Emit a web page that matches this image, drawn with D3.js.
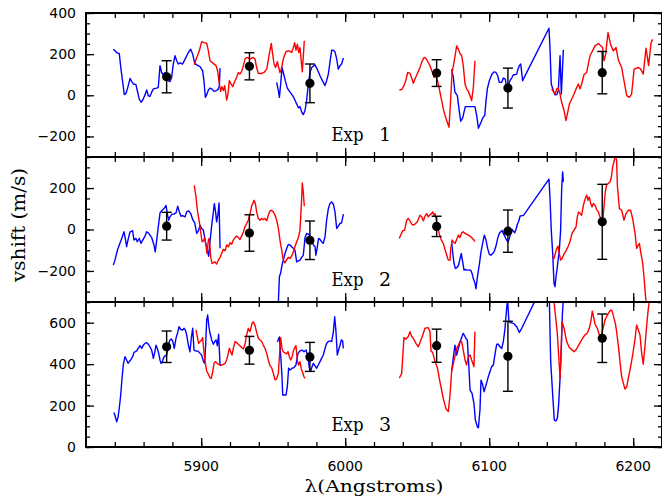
<!DOCTYPE html>
<html>
<head>
<meta charset="utf-8">
<script src="https://cdn.jsdelivr.net/npm/d3@7"></script>
<style>
  body { margin: 0; background: #fff; }
  svg { display: block; }
</style>
</head>
<body>
<svg id="chart" width="662" height="496"></svg>
<script>
// ---- data -----------------------------------------------------------------
const wavelengthRange = [5820, 6220];
const xTickLabels = [5900, 6000, 6100, 6200];
const panelNames = ["Exp", "Exp", "Exp"];
const panelNumbers = ["1", "2", "3"];
const yDomains = [[-300, 400], [-350, 350], [0, 700]];
const yTickLabels = [[-200, 0, 200, 400], [-200, 0, 200], [0, 200, 400, 600]];

// binned velocity shifts (wavelength of bin centre, shift, 1-sigma error)
const binCenters = [5876, 5933.5, 5975.5, 6063.5, 6113, 6178.5];
const exp1Shift = [90, 141, 58, 108, 35, 110];
const exp1Error = [78, 66, 94, 65, 97, 103];
const exp2Shift = [16, -17, -52, 15, -8, 37];
const exp2Error = [67, 88, 93, 49, 102, 181];
const exp3Shift = [484, 467, 435, 489, 438, 525];
const exp3Error = [76, 67, 70, 80, 169, 117];

// per-chunk shift curves, [wavelength, shift] pairs, one array per chunk
const exp1Blue = [
  [[5839.0,224],[5840.1,216],[5841.8,205],[5843.1,203],[5844.3,127],[5845.5,63],[5846.6,3],[5847.8,10],[5848.9,35],[5850.6,82],[5851.7,68],[5852.9,55],[5854.7,52],[5855.6,23],[5857.0,-18],[5858.2,-34],[5859.4,-23],[5861.0,2],[5862.1,26],[5863.3,-2],[5864.4,-6],[5865.6,15],[5866.8,31],[5869.1,35],[5870.2,39],[5871.4,144],[5872.5,111],[5873.7,100],[5874.9,111],[5876.0,90],[5877.2,71],[5878.3,66],[5879.5,87],[5880.6,152],[5881.8,192],[5883.0,168],[5884.1,152],[5885.3,158],[5887.1,152],[5888.8,176],[5891.1,208],[5892.7,224],[5894.1,200],[5895.5,155],[5896.9,148],[5899.2,139],[5901.0,119],[5901.9,71],[5902.9,-10],[5903.8,3],[5905.0,26],[5906.1,35],[5907.3,31],[5908.9,19],[5910.7,23],[5911.9,31],[5912.6,47],[5913.1,132]],
  [[5952.4,63],[5953.6,23],[5954.3,-10],[5955.2,55],[5956.1,135],[5957.0,111],[5958.4,71],[5959.8,35],[5961.7,15],[5963.5,-2],[5965.1,-23],[5966.3,-42],[5967.5,-61],[5968.6,-55],[5969.8,-82],[5970.9,-94],[5972.1,-74],[5973.2,-26],[5974.4,55],[5975.6,111],[5976.7,135],[5979.0,148],[5980.6,127],[5982.5,95],[5984.8,63],[5986.0,47],[5987.1,71],[5988.3,103],[5989.4,160],[5990.6,219],[5991.8,219],[5992.9,212],[5994.1,176],[5995.2,127],[5996.4,144],[5997.5,152],[5998.7,181]],
  [[6073.9,127],[6075.1,87],[6076.2,15],[6077.9,-2],[6079.3,-82],[6080.2,-126],[6081.6,-110],[6082.5,-82],[6083.4,-55],[6085.5,-55],[6087.8,-55],[6090.1,-55],[6091.3,-98],[6092.5,-160],[6094.1,-135],[6095.5,-110],[6096.9,-98],[6097.8,-26],[6098.7,31],[6100.1,71],[6101.7,100],[6103.3,114],[6104.7,111],[6105.9,95],[6107.0,63],[6108.7,63],[6109.8,84],[6111.2,79],[6112.1,35],[6113.3,47],[6114.4,71],[6115.6,84],[6116.8,100],[6117.9,100],[6119.1,103],[6120.0,127],[6120.9,144],[6121.9,152],[6123.2,71],[6141.5,326],[6142.2,232],[6143.1,55],[6144.5,23],[6145.7,2],[6146.9,3],[6148.0,23],[6149.2,192],[6150.1,6],[6151.5,221]]
];
const exp1Red = [
  [[5895.2,148],[5896.9,184],[5898.7,216],[5900.3,261],[5901.9,256],[5903.8,253],[5905.0,216],[5906.1,168],[5908.4,155],[5910.3,144],[5911.4,119],[5912.6,55],[5913.5,19],[5914.4,42],[5915.4,23],[5916.3,47],[5917.7,-23],[5918.6,6],[5919.5,71],[5920.7,55],[5921.9,42],[5923.0,63],[5924.6,87],[5925.8,111],[5926.9,103],[5928.1,116],[5929.3,144],[5930.4,176],[5931.6,184],[5932.7,181],[5933.9,176],[5935.7,184],[5937.4,176],[5938.5,135],[5939.7,106],[5942.0,106],[5943.6,111],[5945.5,127],[5947.3,200],[5948.7,252],[5949.6,200],[5950.6,152],[5951.7,135],[5952.9,164],[5953.8,135],[5954.7,111],[5955.6,127],[5957.0,176],[5958.9,213],[5961.2,216],[5962.8,208],[5964.0,232],[5964.9,256],[5965.8,219],[5966.8,248],[5967.7,208],[5968.6,232],[5970.2,114],[5971.6,265]],
  [[6037.6,27],[6039.2,27],[6040.8,47],[6042.2,74],[6043.4,111],[6045.0,106],[6046.2,84],[6047.3,58],[6048.5,79],[6050.1,106],[6051.5,127],[6053.1,160],[6054.7,184],[6055.9,181],[6057.0,168],[6058.9,144],[6060.3,116],[6061.7,87],[6063.1,95],[6064.7,55],[6065.8,15],[6067.0,-26],[6068.1,-66],[6069.3,-98],[6070.9,-131],[6072.1,-155],[6073.2,-26],[6074.2,111],[6075.1,143],[6076.3,192],[6077.4,240],[6078.6,224],[6079.7,203],[6080.9,192],[6082.0,143],[6083.2,55],[6084.3,31],[6085.5,19],[6086.7,-2],[6087.8,-26],[6089.0,39],[6090.1,168]],
  [[6143.4,31],[6145.7,6],[6146.9,31],[6148.0,35],[6149.2,6],[6150.3,-34],[6152.0,-74],[6153.3,-123],[6154.3,-90],[6155.7,-42],[6157.3,-18],[6158.9,6],[6160.3,31],[6161.9,55],[6163.1,31],[6164.2,55],[6165.8,100],[6167.7,111],[6169.5,176],[6170.0,192],[6173.5,240],[6175.8,252],[6178.8,232],[6179.7,168],[6180.9,200],[6182.5,305],[6184.4,245],[6186.2,216],[6188.1,232],[6189.7,171],[6192.0,135],[6193.6,71],[6195.5,-2],[6197.3,-10],[6198.9,6],[6200.6,127],[6203.6,135],[6205.2,127],[6207.0,103],[6208.9,229],[6210.7,144],[6212.4,256],[6213.5,272]]
];

const exp2Blue = [
  [[5839.0,-172],[5840.1,-148],[5841.8,-100],[5843.1,-75],[5844.8,-43],[5846.4,-11],[5847.5,-51],[5848.2,-83],[5849.4,-43],[5850.6,-11],[5852.4,-6],[5853.3,-51],[5854.7,-43],[5855.6,-59],[5857.0,-43],[5858.2,-67],[5859.4,-51],[5861.0,-32],[5862.1,-11],[5863.3,-16],[5864.4,-27],[5865.6,-39],[5867.2,-75],[5868.1,-108],[5869.1,-51],[5870.2,13],[5871.4,80],[5872.8,93],[5874.2,101],[5875.6,116],[5876.5,74],[5877.4,45],[5878.3,61],[5879.7,74],[5881.1,74],[5882.5,80],[5883.7,112],[5884.8,85],[5886.0,64],[5887.1,67],[5888.8,61],[5889.9,85],[5891.3,90],[5892.7,77],[5894.1,48],[5895.5,32],[5896.9,-19],[5898.1,-6],[5899.2,21],[5900.3,5],[5901.5,-3],[5902.9,-59],[5904.3,-100],[5905.2,-129],[5906.1,-59],[5907.3,21],[5908.4,80],[5909.1,125],[5910.0,85],[5910.7,37],[5911.7,77],[5912.4,128],[5913.1,-91]],
  [[5952.4,-453],[5953.6,-347],[5954.3,-228],[5955.2,-209],[5955.9,-180],[5957.0,-148],[5958.2,-116],[5959.4,-91],[5960.5,-72],[5961.7,-75],[5962.8,-83],[5964.0,-91],[5965.1,-100],[5966.3,-156],[5967.5,-151],[5968.6,-148],[5969.8,-135],[5970.9,-124],[5972.1,-39],[5973.2,-19],[5974.4,-22],[5975.6,-32],[5976.7,-39],[5977.9,-75],[5979.1,-83],[5979.6,-124],[5980.6,-87],[5981.5,-43],[5982.5,-48],[5983.6,-59],[5984.8,-67],[5986.0,-35],[5987.1,45],[5988.3,101],[5989.4,125],[5990.6,133],[5991.8,122],[5992.9,85],[5994.1,5],[5995.2,16],[5996.4,29],[5997.5,32],[5998.7,74]],
  [[6073.9,-59],[6074.6,-108],[6075.6,-164],[6076.5,-188],[6077.4,-185],[6078.6,-175],[6079.7,-143],[6080.6,-116],[6081.6,-156],[6082.5,-196],[6083.4,-193],[6084.8,-196],[6086.2,-196],[6087.1,-196],[6088.1,-212],[6089.0,-238],[6090.1,-258],[6090.8,-286],[6091.8,-230],[6093.2,-167],[6094.3,-108],[6095.5,-64],[6096.6,-27],[6097.8,-51],[6098.9,-91],[6100.1,-120],[6101.2,-124],[6102.4,-116],[6103.6,-104],[6104.7,-80],[6106.1,-37],[6107.0,-19],[6108.0,-11],[6108.9,-5],[6109.8,-19],[6111.0,-35],[6112.1,-51],[6113.1,-59],[6114.0,-43],[6114.9,-16],[6115.8,0],[6116.8,-8],[6117.7,-16],[6118.6,0],[6119.5,24],[6120.5,40],[6121.4,64],[6122.5,67],[6123.7,67],[6141.5,243],[6142.2,157],[6143.1,-3],[6144.1,-116],[6145.0,-260],[6145.7,-276],[6146.4,-228],[6147.3,-180],[6148.7,-100],[6149.6,-3],[6150.3,190],[6151.0,278],[6151.5,230]]
];
const exp2Red = [
  [[5895.2,213],[5896.4,157],[5897.5,85],[5898.7,37],[5899.6,-11],[5900.6,-59],[5901.5,-55],[5902.4,-39],[5903.3,-75],[5904.0,-116],[5905.0,-51],[5905.6,-43],[5906.6,-132],[5907.5,-164],[5908.4,-161],[5909.6,-156],[5910.7,-167],[5911.9,-148],[5913.1,-135],[5914.2,-116],[5915.4,-96],[5916.6,-103],[5917.7,-75],[5918.9,-83],[5920.0,-64],[5921.2,-71],[5922.3,-51],[5923.5,-39],[5924.6,-32],[5925.8,-39],[5926.9,-48],[5928.1,-32],[5929.3,-11],[5930.4,13],[5931.6,29],[5932.7,45],[5933.9,77],[5935.0,112],[5936.7,141],[5937.6,125],[5938.5,85],[5939.7,53],[5940.8,45],[5942.0,53],[5943.1,48],[5944.3,53],[5945.5,42],[5946.6,69],[5947.8,90],[5948.9,93],[5950.1,85],[5951.3,69],[5952.4,45],[5953.6,5],[5954.7,-51],[5955.9,-100],[5957.0,-148],[5958.2,-161],[5959.4,-145],[5960.5,-135],[5961.7,-140],[5962.8,-129],[5964.0,-108],[5965.1,-83],[5966.3,-59],[5967.5,-39],[5968.6,-3],[5969.1,61],[5969.8,157],[5970.2,225],[5970.9,181],[5971.6,112]],
  [[6037.6,-43],[6038.5,-27],[6039.9,-6],[6041.3,-3],[6042.7,45],[6043.8,53],[6045.0,42],[6046.2,26],[6047.3,21],[6048.5,26],[6050.1,37],[6051.0,53],[6052.0,69],[6053.1,61],[6054.3,42],[6055.4,64],[6056.6,77],[6057.7,61],[6058.9,72],[6060.0,77],[6060.7,85],[6061.7,69],[6062.4,77],[6063.5,37],[6064.7,-3],[6065.8,-32],[6067.0,-55],[6068.1,-67],[6069.3,-96],[6070.5,-124],[6071.6,-148],[6072.8,-148],[6073.2,-100],[6074.2,-51],[6075.1,-59],[6076.3,-67],[6077.4,-48],[6078.6,-27],[6079.7,-39],[6080.9,-16],[6082.0,-11],[6083.2,-19],[6084.3,-22],[6085.5,-27],[6086.7,-32],[6087.8,-39],[6089.0,-48],[6090.1,-59]],
  [[6144.1,-132],[6145.0,-140],[6145.9,-116],[6146.9,-92],[6147.8,-80],[6148.7,-116],[6149.6,-148],[6150.6,-140],[6151.9,-119],[6153.3,-103],[6154.7,-83],[6156.1,-59],[6157.5,-19],[6158.9,-3],[6160.3,13],[6161.2,61],[6162.1,85],[6163.1,77],[6164.2,69],[6165.4,117],[6166.5,145],[6167.7,166],[6168.6,141],[6169.5,157],[6170.5,125],[6171.4,109],[6172.3,125],[6173.5,117],[6174.6,96],[6175.8,85],[6176.9,61],[6178.1,45],[6178.8,37],[6179.7,109],[6180.6,181],[6181.6,218],[6182.7,222],[6183.9,230],[6184.8,251],[6185.7,302],[6186.9,334],[6187.6,370],[6188.5,330],[6189.0,214],[6190.4,101],[6192.0,93],[6193.6,45],[6195.0,77],[6196.6,93],[6198.2,93],[6199.6,53],[6201.3,-19],[6202.4,-91],[6203.6,-75],[6204.3,-67],[6205.2,-108],[6206.6,-164],[6207.5,-228],[6208.2,-292],[6208.9,-348],[6209.5,-420]]
];

const exp3Blue = [
  [[5839.4,167],[5840.4,146],[5841.3,122],[5842.2,142],[5843.1,187],[5844.1,251],[5845.0,331],[5845.9,396],[5847.1,436],[5848.2,420],[5849.2,404],[5850.1,412],[5851.0,420],[5852.4,436],[5853.3,457],[5854.3,460],[5855.2,464],[5856.6,480],[5857.5,489],[5858.7,476],[5859.8,492],[5861.0,500],[5862.1,504],[5863.3,496],[5864.4,484],[5865.6,468],[5866.8,428],[5867.9,463],[5868.6,492],[5869.5,476],[5870.5,452],[5871.4,420],[5872.1,404],[5873.2,415],[5874.2,436],[5875.1,441],[5876.0,444],[5877.4,500],[5878.3,517],[5879.3,521],[5880.2,512],[5881.3,476],[5882.5,525],[5883.7,553],[5884.6,581],[5885.7,568],[5887.1,565],[5888.1,573],[5889.0,565],[5889.9,541],[5891.1,492],[5892.2,460],[5893.1,525],[5894.1,573],[5895.0,468],[5896.4,463],[5897.8,463],[5899.2,452],[5900.3,444],[5901.5,415],[5902.4,404],[5903.1,492],[5903.8,613],[5904.5,637],[5905.2,589],[5906.1,549],[5907.3,517],[5908.4,496],[5909.4,509],[5910.3,517],[5911.2,489],[5912.1,544],[5913.1,396],[5914.0,393]],
  [[5952.9,507],[5954.3,531],[5955.2,444],[5956.1,340],[5956.6,251],[5957.5,251],[5958.9,251],[5959.8,290],[5960.7,380],[5961.7,372],[5963.1,380],[5964.4,383],[5965.8,396],[5967.2,452],[5968.6,464],[5970.0,468],[5971.4,460],[5972.8,468],[5974.2,434],[5975.1,380],[5976.0,367],[5977.0,388],[5977.9,404],[5979.0,393],[5980.2,380],[5981.3,396],[5982.5,412],[5983.6,428],[5984.8,444],[5986.0,476],[5987.1,500],[5988.3,509],[5989.4,512],[5990.6,509],[5991.8,557],[5992.7,629],[5993.6,557],[5994.5,444],[5995.4,468],[5996.4,492],[5997.3,517],[5998.2,512],[5998.7,476]],
  [[6073.9,367],[6076.2,492],[6077.4,444],[6078.6,476],[6080.2,517],[6082.0,549],[6083.9,524],[6084.8,517],[6085.7,412],[6086.7,275],[6088.1,259],[6089.4,211],[6090.4,130],[6091.8,97],[6092.5,93],[6093.6,180],[6094.3,323],[6095.5,299],[6096.4,267],[6097.8,299],[6099.4,340],[6100.6,364],[6101.7,388],[6102.9,396],[6104.0,447],[6105.2,496],[6106.3,496],[6107.5,484],[6108.7,476],[6109.8,509],[6111.0,573],[6112.1,669],[6112.8,710],[6113.7,605],[6114.4,602],[6116.8,597],[6119.1,581],[6120.9,553],[6122.6,573],[6141.5,845],[6141.8,702],[6142.7,412],[6144.1,251],[6145.2,130],[6146.4,126],[6147.3,138],[6148.2,203],[6149.2,332],[6150.1,476],[6150.8,637],[6151.5,718]]
];
const exp3Red = [
  [[5896.4,565],[5897.3,533],[5898.2,500],[5899.2,509],[5900.3,517],[5901.0,528],[5901.9,460],[5902.9,404],[5903.8,367],[5905.0,351],[5906.1,334],[5907.0,331],[5908.0,364],[5908.9,404],[5909.8,412],[5910.7,407],[5911.9,399],[5913.1,396],[5914.2,396],[5915.4,399],[5916.6,404],[5917.7,420],[5918.8,452],[5919.5,476],[5920.5,460],[5921.4,444],[5922.3,476],[5923.5,509],[5924.6,504],[5925.8,496],[5926.9,489],[5928.1,480],[5929.3,473],[5930.4,496],[5931.6,541],[5932.7,573],[5933.9,557],[5935.3,597],[5936.2,605],[5937.4,586],[5938.5,553],[5939.7,525],[5940.8,517],[5942.0,509],[5943.1,492],[5944.3,476],[5945.5,452],[5946.6,420],[5947.8,393],[5948.9,383],[5950.1,356],[5951.3,324],[5952.4,329],[5953.6,356],[5954.3,436],[5955.2,528],[5956.1,476],[5957.0,460],[5958.2,454],[5959.3,449],[5960.3,460],[5961.2,436],[5962.2,420],[5963.1,436],[5964.0,463],[5964.9,479],[5965.8,489],[5966.8,415],[5967.7,396],[5968.6,412],[5969.5,377],[5970.4,361],[5971.3,340],[5972.1,332]],
  [[6037.6,333],[6039.2,354],[6040.8,528],[6042.2,521],[6043.8,533],[6045.0,557],[6046.2,533],[6047.3,525],[6049.2,499],[6050.8,484],[6053.1,525],[6055.4,573],[6057.7,576],[6058.9,557],[6059.6,463],[6060.7,457],[6062.4,412],[6064.0,383],[6065.8,315],[6068.1,235],[6070.0,184],[6071.6,171],[6072.8,251],[6073.9,364],[6075.6,420],[6077.4,476],[6078.6,492],[6079.7,509],[6080.9,509],[6082.0,468],[6083.2,420],[6084.3,396],[6085.5,436],[6086.7,444],[6087.8,420],[6089.0,396],[6089.4,388],[6090.1,557]],
  [[6144.1,760],[6147.3,550],[6149.2,331],[6150.6,605],[6152.0,573],[6153.8,509],[6155.6,480],[6157.3,470],[6158.9,460],[6160.7,473],[6162.1,492],[6163.5,509],[6164.9,525],[6166.5,541],[6168.1,549],[6169.5,573],[6170.7,610],[6171.6,656],[6173.7,589],[6175.1,573],[6176.5,541],[6177.4,525],[6178.8,565],[6180.4,613],[6182.1,637],[6183.4,653],[6184.4,661],[6185.3,657],[6186.2,634],[6187.6,597],[6188.5,557],[6189.9,476],[6190.8,412],[6192.0,340],[6193.2,307],[6194.3,280],[6195.5,291],[6196.6,332],[6198.2,388],[6199.6,444],[6201.2,517],[6202.4,589],[6203.6,565],[6204.7,541],[6205.9,452],[6207.0,400],[6208.2,490],[6209.3,581],[6210.5,669],[6211.7,734]]
];

const experiments = [
  { blue: exp1Blue, red: exp1Red, shift: exp1Shift, err: exp1Error },
  { blue: exp2Blue, red: exp2Red, shift: exp2Shift, err: exp2Error },
  { blue: exp3Blue, red: exp3Red, shift: exp3Shift, err: exp3Error }
];

// ---- layout ---------------------------------------------------------------
const svg = d3.select("#chart");
const plotLeft = 86, plotRight = 662;
const panelEdges = [13, 157, 302, 447];
const tickFont = "'DejaVu Sans', sans-serif";
const labelFont = "'DejaVu Serif', serif";

const x = d3.scaleLinear().domain(wavelengthRange).range([plotLeft, plotRight]);
const xMinor = d3.range(5840, 6221, 20);
const xMajor = d3.range(5900, 6221, 100);

const line = (y) => d3.line().x(d => x(d[0])).y(d => y(d[1]));

experiments.forEach((exp, i) => {
  const top = panelEdges[i], bottom = panelEdges[i + 1];
  const y = d3.scaleLinear().domain(yDomains[i]).range([bottom, top]);
  const g = svg.append("g");

  const clipId = "clip" + i;
  svg.append("clipPath").attr("id", clipId)
    .append("rect").attr("x", plotLeft).attr("y", top)
    .attr("width", plotRight - plotLeft).attr("height", bottom - top);

  // shift curves
  const curves = g.append("g").attr("clip-path", `url(#${clipId})`)
    .attr("fill", "none").attr("stroke-width", 1.4).attr("stroke-linejoin", "round");
  curves.selectAll("path.blue").data(exp.blue).join("path")
    .attr("class", "blue").attr("stroke", "#0000ff").attr("d", line(y));
  curves.selectAll("path.red").data(exp.red).join("path")
    .attr("class", "red").attr("stroke", "#ff0000").attr("d", line(y));

  // binned points with error bars
  const pts = binCenters.map((c, k) => ({ c, v: exp.shift[k], e: exp.err[k] }));
  const eb = g.append("g").attr("stroke", "#000").attr("stroke-width", 1.4);
  eb.selectAll("line.v").data(pts).join("line").attr("class", "v")
    .attr("x1", d => x(d.c)).attr("x2", d => x(d.c))
    .attr("y1", d => y(d.v - d.e)).attr("y2", d => y(d.v + d.e));
  eb.selectAll("line.t").data(pts).join("line").attr("class", "t")
    .attr("x1", d => x(d.c) - 5).attr("x2", d => x(d.c) + 5)
    .attr("y1", d => y(d.v + d.e)).attr("y2", d => y(d.v + d.e));
  eb.selectAll("line.b").data(pts).join("line").attr("class", "b")
    .attr("x1", d => x(d.c) - 5).attr("x2", d => x(d.c) + 5)
    .attr("y1", d => y(d.v - d.e)).attr("y2", d => y(d.v - d.e));
  g.append("g").selectAll("circle").data(pts).join("circle")
    .attr("cx", d => x(d.c)).attr("cy", d => y(d.v)).attr("r", 4.6).attr("fill", "#000");

  // y axes: minor ticks every 50, labelled ticks every 200
  const yMinor = d3.range(Math.ceil(yDomains[i][0] / 50) * 50, yDomains[i][1] + 1, 50);
  const styleAxis = (sel) => {
    sel.select(".domain").remove();
    sel.selectAll(".tick line").attr("stroke", "#000").attr("stroke-width", 1.3);
  };
  g.append("g").attr("transform", `translate(${plotLeft},0)`)
    .call(d3.axisLeft(y).tickValues(yMinor).tickSize(-4).tickFormat(""))
    .call(styleAxis);
  const yl = g.append("g").attr("transform", `translate(${plotLeft},0)`)
    .call(d3.axisLeft(y).tickValues(yTickLabels[i]).tickSize(-8).tickPadding(10))
    .call(styleAxis);
  yl.selectAll("text").attr("font-family", tickFont).attr("font-size", 14).attr("fill", "#000");
  g.append("g").attr("transform", `translate(${plotRight},0)`)
    .call(d3.axisRight(y).tickValues(yMinor).tickSize(-4).tickFormat(""))
    .call(styleAxis);
  g.append("g").attr("transform", `translate(${plotRight},0)`)
    .call(d3.axisRight(y).tickValues(yTickLabels[i]).tickSize(-8).tickFormat(""))
    .call(styleAxis);

  // x ticks on both edges of the panel, pointing inwards
  [[top, d3.axisTop], [bottom, d3.axisBottom]].forEach(([yy, axisFn]) => {
    g.append("g").attr("transform", `translate(0,${yy})`)
      .call(axisFn(x).tickValues(xMinor).tickSize(-5).tickFormat(""))
      .call(styleAxis);
    g.append("g").attr("transform", `translate(0,${yy})`)
      .call(axisFn(x).tickValues(xMajor).tickSize(-9).tickFormat(""))
      .call(styleAxis);
  });

  // frame
  g.append("rect").attr("x", plotLeft).attr("y", top)
    .attr("width", plotRight - plotLeft).attr("height", bottom - top)
    .attr("fill", "none").attr("stroke", "#000").attr("stroke-width", 2);

  // panel label
  const lbl = g.append("text").attr("font-family", labelFont).attr("font-size", 19)
    .attr("fill", "#000").attr("y", bottom - 16);
  lbl.append("tspan").attr("x", 331.5).attr("textLength", 32)
    .attr("lengthAdjust", "spacingAndGlyphs").text(panelNames[i]);
  lbl.append("tspan").attr("x", 379).text(panelNumbers[i]);
});

// wavelength tick labels under the bottom panel
svg.append("g").selectAll("text").data(xTickLabels).join("text")
  .attr("x", d => x(d)).attr("y", 471).attr("text-anchor", "middle")
  .attr("font-family", tickFont).attr("font-size", 14).attr("fill", "#000")
  .text(d => d);

// axis titles
svg.append("text").attr("x", (plotLeft + plotRight) / 2).attr("y", 492)
  .attr("text-anchor", "middle").attr("font-family", labelFont).attr("font-size", 16)
  .attr("textLength", 139).attr("lengthAdjust", "spacingAndGlyphs")
  .attr("fill", "#000").text("λ(Angstroms)");
svg.append("text").attr("transform", "translate(25,225) rotate(-90)")
  .attr("text-anchor", "middle").attr("font-family", labelFont).attr("font-size", 19)
  .attr("textLength", 114).attr("lengthAdjust", "spacingAndGlyphs")
  .attr("fill", "#000").text("vshift (m/s)");
</script>
</body>
</html>
